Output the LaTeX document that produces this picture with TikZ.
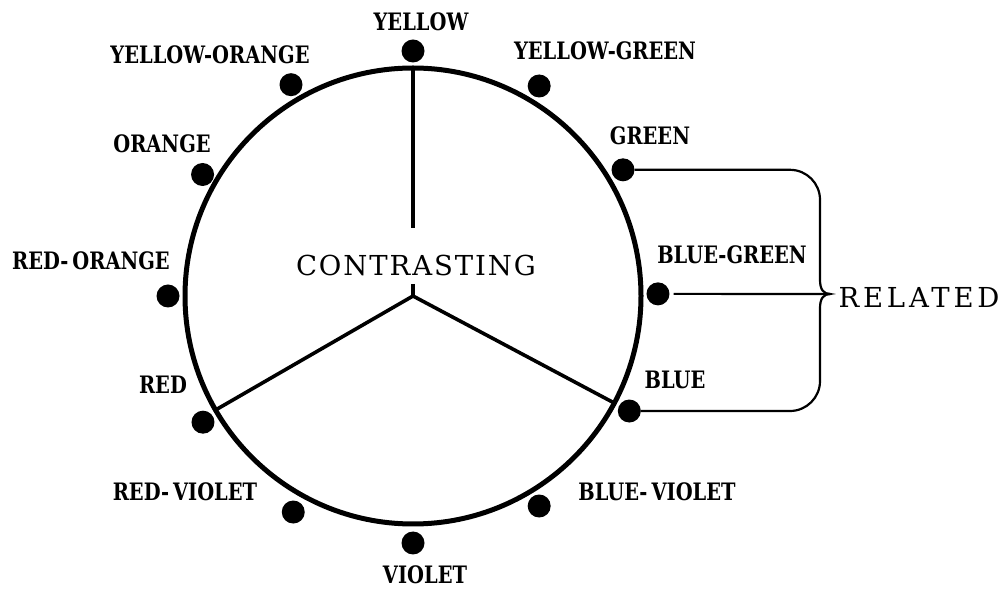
\documentclass[tikz,border=0pt]{standalone}
\usepackage{fontspec}
\usetikzlibrary{calc}
\newfontfamily\labfont[FakeStretch=0.81]{DejaVu Serif}
\newfontfamily\bigfont[LetterSpace=7]{DejaVu Serif}
\newfontfamily\relfont[LetterSpace=14]{DejaVu Serif}
\begin{document}
\begin{tikzpicture}[x=1pt,y=1pt,
  rim/.style={line width=5pt},
  spoke/.style={line width=3.6pt},
  brace/.style={line width=2.2pt},
  dot/.style={circle,fill=black,minimum size=23pt,inner sep=0pt},
  lab/.style={inner sep=0pt,anchor=center,font=\labfont\bfseries\fontsize{24}{24}\selectfont},
  big/.style={inner sep=0pt,anchor=center,font=\bigfont\fontsize{27.5}{27.5}\selectfont},
  rel/.style={inner sep=0pt,anchor=center,font=\relfont\fontsize{27.5}{27.5}\selectfont}]
\useasboundingbox (0,0) rectangle (1006,589);
\coordinate (C) at (413,293);
% wheel
\draw[rim] (C) circle[radius=228];
% dots
\node[dot] (yellow) at ($(C)+(90:245)$) {};
\node[dot] (yg) at ($(C)+(59:245)$) {};
\node[dot] (green) at ($(C)+(31:245)$) {};
\node[dot] (bg) at ($(C)+(0.5:245)$) {};
\node[dot] (blue) at ($(C)+(-28:245)$) {};
\node[dot] (bv) at ($(C)+(-59:245)$) {};
\node[dot] (violet) at ($(C)+(-90:247)$) {};
\node[dot] (rv) at ($(C)+(-119:247)$) {};
\node[dot] (red) at ($(C)+(211:245)$) {};
\node[dot] (ro) at ($(C)+(180:245)$) {};
\node[dot] (orange) at ($(C)+(150:243)$) {};
\node[dot] (yo) at ($(C)+(120:244)$) {};
% spokes
\coordinate (s1) at ($(C)+(90:228)$);
\coordinate (s1e) at (413,361);
\coordinate (s0) at (413,305);
\coordinate (s2) at ($(C)+(210:227)$);
\coordinate (s3) at ($(C)+(-28:228)$);
\draw[spoke] (s1) -- (s1e);
\draw[spoke] (s0) -- (C);
\draw[spoke,line join=miter] (s2) -- (C) -- (s3);
% labels
\node[lab] at (421,567) {YELLOW};
\node[lab] at (605,538) {YELLOW-GREEN};
\node[lab] at (650,453) {GREEN};
\node[lab] at (732,334) {BLUE-GREEN};
\node[lab] at (675,209) {BLUE};
\node[lab] at (657,97) {BLUE-\,VIOLET};
\node[lab] at (425,14) {VIOLET};
\node[lab] at (185,97) {RED-\,VIOLET};
\node[lab] at (163,204) {RED};
\node[lab] at (91,328) {RED-\,ORANGE};
\node[lab] at (162,445) {ORANGE};
\node[lab] at (210,534) {YELLOW-ORANGE};
\node[big] (contrast) at (416,324) {CONTRASTING};
\node[rel] (related) at (919,292) {RELATED};
% brace
\coordinate (tip) at (830,295);
\coordinate (bx) at (790,0);
\draw[brace] (green.east) -- (green.east -| bx) arc[start angle=90,end angle=0,radius=30]
  -- (820,309) .. controls (820,299) and (824,295) .. (tip)
  .. controls (824,295) and (820,291) .. (820,281)
  -- (820,208) arc[start angle=0,end angle=-90,radius=30] -- (blue.east);
\draw[brace] ([xshift=4pt]bg.east) -- (tip);
\end{tikzpicture}
\end{document}
